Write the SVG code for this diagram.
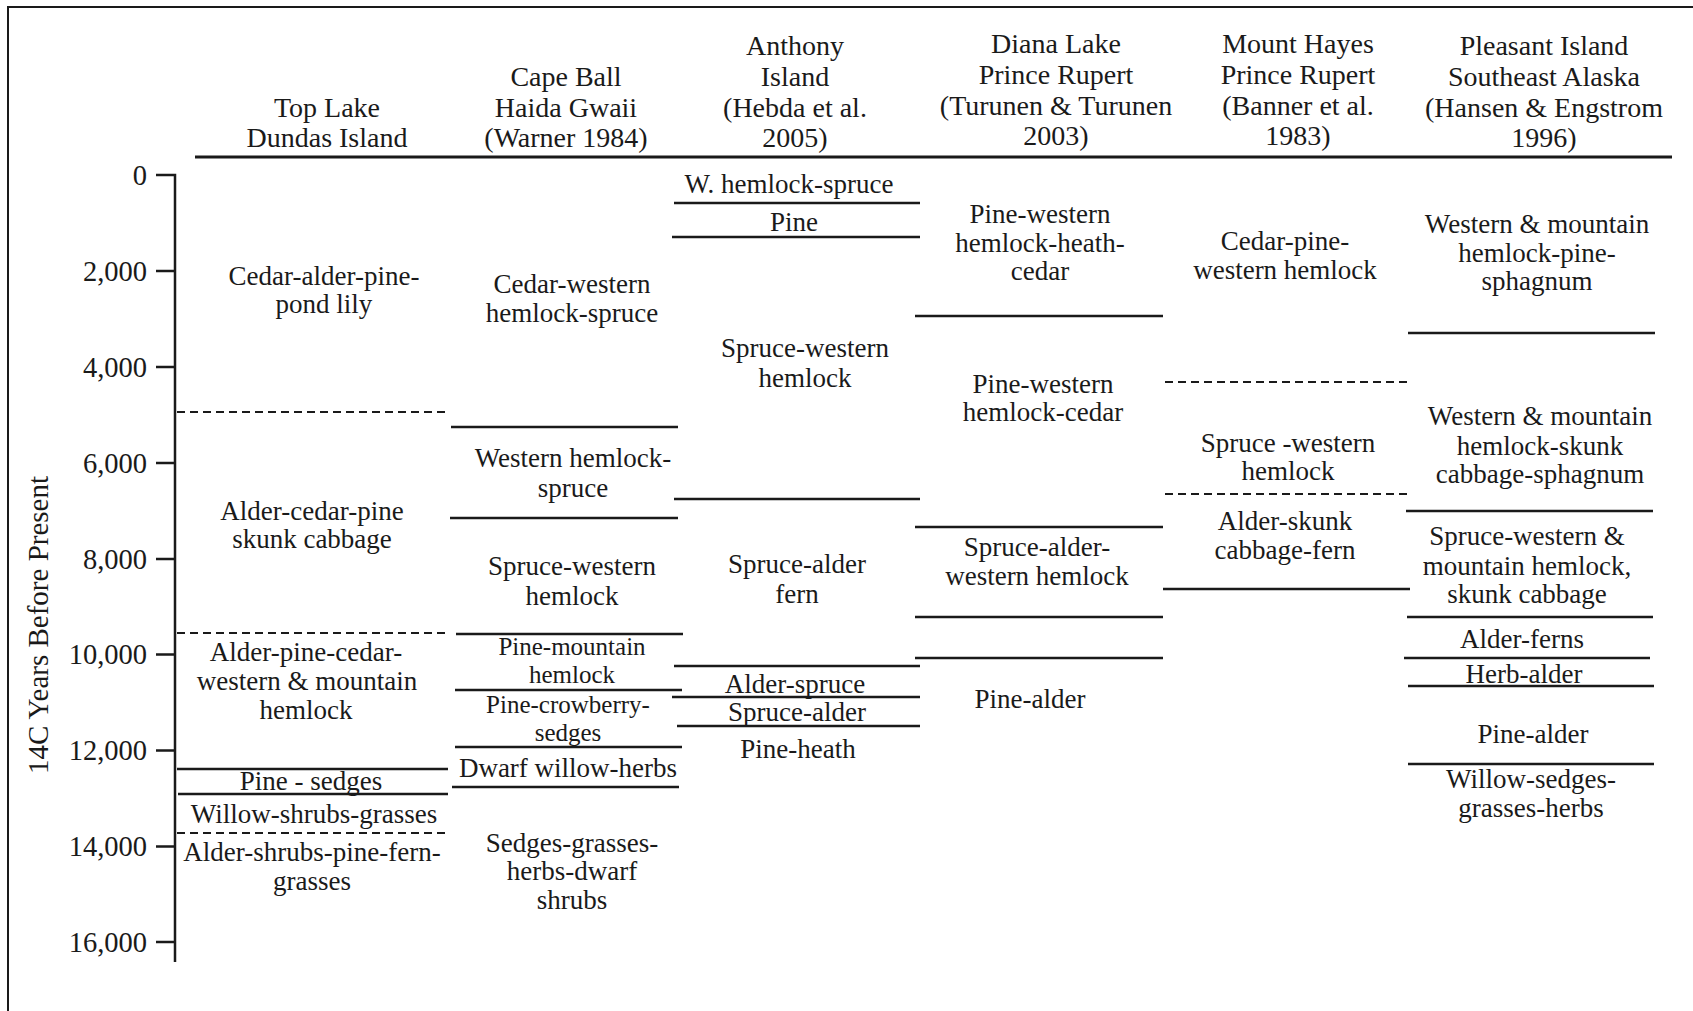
<svg xmlns="http://www.w3.org/2000/svg" width="1693" height="1011" viewBox="0 0 1693 1011">
<style>
text{font-family:"Liberation Serif","Times New Roman",serif;fill:#1a1a1a}
.h{font-size:28px;text-anchor:middle}
.b{font-size:27px;text-anchor:middle}
.n{font-size:25px}
.t{font-size:28.5px;text-anchor:end}
.ax{font-size:29px;text-anchor:middle}
.s{stroke:#1a1a1a;stroke-width:2.5;fill:none}
.d{stroke:#1a1a1a;stroke-width:2;stroke-dasharray:8 5;fill:none}
</style>
<rect width="1693" height="1011" fill="#fff"/>
<path d="M8,1011 V7 H1693" fill="none" stroke="#1a1a1a" stroke-width="2"/>

<g id="headers">
<line x1="195" y1="157" x2="1672" y2="157" stroke="#1a1a1a" stroke-width="3"/>
<text class="h" x="327" y="117">Top Lake</text>
<text class="h" x="327" y="147">Dundas Island</text>
<text class="h" x="566" y="86">Cape Ball</text>
<text class="h" x="566" y="117">Haida Gwaii</text>
<text class="h" x="566" y="147">(Warner 1984)</text>
<text class="h" x="795" y="55">Anthony</text>
<text class="h" x="795" y="86">Island</text>
<text class="h" x="795" y="117">(Hebda et al.</text>
<text class="h" x="795" y="147">2005)</text>
<text class="h" x="1056" y="53">Diana Lake</text>
<text class="h" x="1056" y="84">Prince Rupert</text>
<text class="h" x="1056" y="115">(Turunen &amp; Turunen</text>
<text class="h" x="1056" y="145">2003)</text>
<text class="h" x="1298" y="53">Mount Hayes</text>
<text class="h" x="1298" y="84">Prince Rupert</text>
<text class="h" x="1298" y="115">(Banner et al.</text>
<text class="h" x="1298" y="145">1983)</text>
<text class="h" x="1544" y="55">Pleasant Island</text>
<text class="h" x="1544" y="86">Southeast Alaska</text>
<text class="h" x="1544" y="117">(Hansen &amp; Engstrom</text>
<text class="h" x="1544" y="147">1996)</text>
</g>

<g id="axis">
<path class="s" d="M156,175 H175 V962 M156,271 H175 M156,367 H175 M156,463 H175 M156,559 H175 M156,654.5 H175 M156,750.5 H175 M156,846.5 H175 M156,942 H175"/>
<text class="t" x="147" y="184.5">0</text>
<text class="t" x="147" y="280.5">2,000</text>
<text class="t" x="147" y="376.5">4,000</text>
<text class="t" x="147" y="472.5">6,000</text>
<text class="t" x="147" y="568.5">8,000</text>
<text class="t" x="147" y="664">10,000</text>
<text class="t" x="147" y="760">12,000</text>
<text class="t" x="147" y="856">14,000</text>
<text class="t" x="147" y="951.5">16,000</text>
<text class="ax" transform="translate(48,625) rotate(-90)">14C Years Before Present</text>
</g>

<g id="connectors">
<path class="d" d="M177,412 H448 M177,633 H448 M177,833 H448"/>
<path class="s" d="M177,769 H448 M178,794 H448"/>
<path class="s" d="M451,427 H678 M450,518 H678 M456,634 H683 M455,690 H682 M455,747 H682 M452,787 H679"/>
<path class="s" d="M674,203 H920 M672,237 H920 M674,499 H920 M674,666 H920 M672,697 H920 M677,726 H920"/>
<path class="s" d="M915,316 H1163 M915,527 H1163 M915,617 H1163 M915,658 H1163"/>
<path class="d" d="M1165,382 H1410 M1165,494 H1410"/>
<path class="s" d="M1163,589 H1410"/>
<path class="s" d="M1408,333 H1655 M1406,511 H1653 M1407,617 H1653 M1404,658 H1650 M1408,686 H1654 M1408,764 H1654"/>
</g>

<g id="col-top-lake">
<text class="b" x="324" y="285">Cedar-alder-pine-</text>
<text class="b" x="324" y="313">pond lily</text>
<text class="b" x="312" y="520">Alder-cedar-pine</text>
<text class="b" x="312" y="548">skunk cabbage</text>
<text class="b" x="306" y="661">Alder-pine-cedar-</text>
<text class="b" x="307" y="690">western &amp; mountain</text>
<text class="b" x="306" y="719">hemlock</text>
<text class="b" x="311" y="790">Pine - sedges</text>
<text class="b" x="314" y="823">Willow-shrubs-grasses</text>
<text class="b" x="312" y="861">Alder-shrubs-pine-fern-</text>
<text class="b" x="312" y="890">grasses</text>
</g>

<g id="col-cape-ball">
<text class="b" x="572" y="293">Cedar-western</text>
<text class="b" x="572" y="322">hemlock-spruce</text>
<text class="b" x="573" y="467">Western hemlock-</text>
<text class="b" x="573" y="497">spruce</text>
<text class="b" x="572" y="575">Spruce-western</text>
<text class="b" x="572" y="605">hemlock</text>
<text class="b n" x="572" y="655">Pine-mountain</text>
<text class="b n" x="572" y="683">hemlock</text>
<text class="b n" x="568" y="713">Pine-crowberry-</text>
<text class="b n" x="568" y="741">sedges</text>
<text class="b" x="568" y="777">Dwarf willow-herbs</text>
<text class="b" x="572" y="852">Sedges-grasses-</text>
<text class="b" x="572" y="880">herbs-dwarf</text>
<text class="b" x="572" y="909">shrubs</text>
</g>

<g id="col-anthony">
<text class="b" x="789" y="193">W. hemlock-spruce</text>
<text class="b" x="794" y="231">Pine</text>
<text class="b" x="805" y="357">Spruce-western</text>
<text class="b" x="805" y="387">hemlock</text>
<text class="b" x="797" y="573">Spruce-alder</text>
<text class="b" x="797" y="603">fern</text>
<text class="b" x="795" y="693">Alder-spruce</text>
<text class="b" x="797" y="721">Spruce-alder</text>
<text class="b" x="798" y="758">Pine-heath</text>
</g>

<g id="col-diana-lake">
<text class="b" x="1040" y="223">Pine-western</text>
<text class="b" x="1040" y="252">hemlock-heath-</text>
<text class="b" x="1040" y="280">cedar</text>
<text class="b" x="1043" y="393">Pine-western</text>
<text class="b" x="1043" y="421">hemlock-cedar</text>
<text class="b" x="1037" y="556">Spruce-alder-</text>
<text class="b" x="1037" y="585">western hemlock</text>
<text class="b" x="1030" y="708">Pine-alder</text>
</g>

<g id="col-mount-hayes">
<text class="b" x="1285" y="250">Cedar-pine-</text>
<text class="b" x="1285" y="279">western hemlock</text>
<text class="b" x="1288" y="452">Spruce -western</text>
<text class="b" x="1288" y="480">hemlock</text>
<text class="b" x="1285" y="530">Alder-skunk</text>
<text class="b" x="1285" y="559">cabbage-fern</text>
</g>

<g id="col-pleasant-island">
<text class="b" x="1537" y="233">Western &amp; mountain</text>
<text class="b" x="1537" y="262">hemlock-pine-</text>
<text class="b" x="1537" y="290">sphagnum</text>
<text class="b" x="1540" y="425">Western &amp; mountain</text>
<text class="b" x="1540" y="455">hemlock-skunk</text>
<text class="b" x="1540" y="483">cabbage-sphagnum</text>
<text class="b" x="1527" y="545">Spruce-western &amp;</text>
<text class="b" x="1527" y="575">mountain hemlock,</text>
<text class="b" x="1527" y="603">skunk cabbage</text>
<text class="b" x="1522" y="648">Alder-ferns</text>
<text class="b" x="1524" y="683">Herb-alder</text>
<text class="b" x="1533" y="743">Pine-alder</text>
<text class="b" x="1531" y="788">Willow-sedges-</text>
<text class="b" x="1531" y="817">grasses-herbs</text>
</g>
</svg>
